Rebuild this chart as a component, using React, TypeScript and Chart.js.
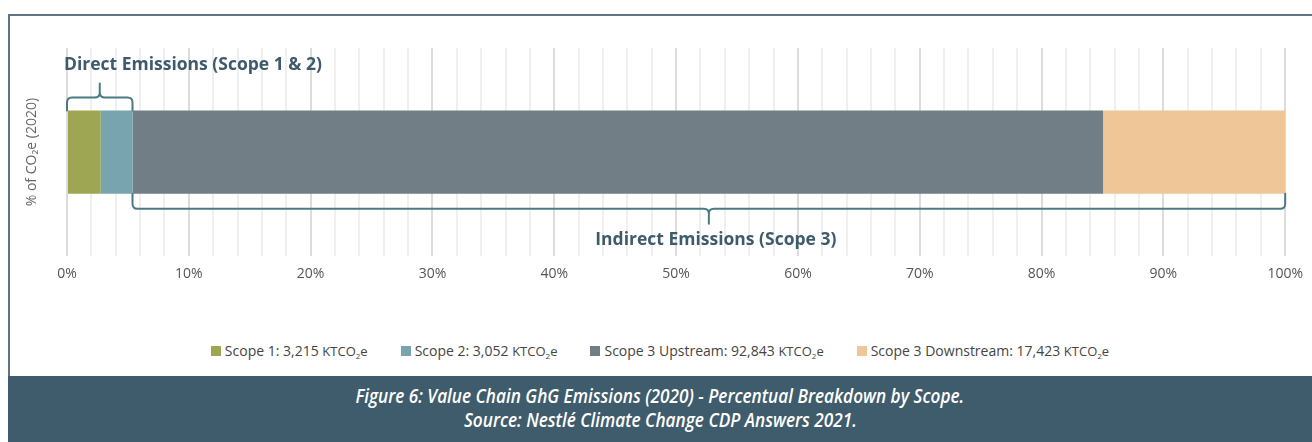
import React, { useEffect, useRef } from "react";
import { Chart, registerables } from "chart.js";

Chart.register(...registerables);

const categories = ["2020"];
const seriesLabels = ["Scope 1", "Scope 2", "Scope 3 Upstream", "Scope 3 Downstream"];
const seriesValuesKt = [3215, 3052, 92843, 17423];
const seriesColors = ["#9ea553", "#77a4ae", "#717e86", "#efc698"];
const xTickLabels = ["0%", "10%", "20%", "30%", "40%", "50%", "60%", "70%", "80%", "90%", "100%"];
const yTitle = "% of CO\u2082e (2020)";
const directLabel = "Direct Emissions (Scope 1 & 2)";
const indirectLabel = "Indirect Emissions (Scope 3)";
const captionLines = [
  "Figure 6: Value Chain GhG Emissions (2020) - Percentual Breakdown by Scope.",
  "Source: Nestl\u00e9 Climate Change CDP Answers 2021.",
];

const FONT = '"Open Sans", "Noto Sans", sans-serif';
const ANNOT_TEXT = "#3e5b6c";
const BRACE = "#4b7b82";

function drawBrace(ctx: CanvasRenderingContext2D, x1: number, x2: number, yEdge: number, yLine: number, yTip: number) {
  const d = Math.sign(yLine - yEdge);
  const r = 5;
  const xm = (x1 + x2) / 2;
  ctx.beginPath();
  ctx.moveTo(x1, yEdge);
  ctx.lineTo(x1, yLine - d * r);
  ctx.quadraticCurveTo(x1, yLine, x1 + r, yLine);
  ctx.lineTo(xm - r, yLine);
  ctx.quadraticCurveTo(xm, yLine, xm, yLine + d * r);
  ctx.lineTo(xm, yTip);
  ctx.moveTo(xm, yLine + d * r);
  ctx.quadraticCurveTo(xm, yLine, xm + r, yLine);
  ctx.lineTo(x2 - r, yLine);
  ctx.quadraticCurveTo(x2, yLine, x2, yLine - d * r);
  ctx.lineTo(x2, yEdge);
  ctx.stroke();
}

const annotationPlugin = {
  id: "annotations",
  afterDatasetsDraw(chart: any) {
    const { ctx, chartArea } = chart;
    const xs = chart.scales.x;
    const bar = chart.getDatasetMeta(0).data[0] as any;
    const top = bar.y - bar.height / 2;
    const bottom = bar.y + bar.height / 2;
    const total = seriesValuesKt.reduce((a, b) => a + b, 0);
    const directPct = ((seriesValuesKt[0] + seriesValuesKt[1]) / total) * 100;
    const x0 = xs.getPixelForValue(0);
    const xd = xs.getPixelForValue(directPct);
    const x100 = xs.getPixelForValue(100);

    ctx.save();
    ctx.strokeStyle = BRACE;
    ctx.lineWidth = 2;
    ctx.lineCap = "round";
    ctx.lineJoin = "round";
    drawBrace(ctx, x0, xd, top, top - 13, top - 27);
    drawBrace(ctx, xd, x100, bottom, bottom + 15, bottom + 30);

    ctx.fillStyle = ANNOT_TEXT;
    ctx.font = `bold 17.5px ${FONT}`;
    ctx.textBaseline = "middle";
    ctx.textAlign = "left";
    ctx.fillText(directLabel, x0 - 3, top - 45);
    ctx.textAlign = "center";
    ctx.fillText(indirectLabel, (xd + x100) / 2 + 7, bottom + 46);

    // y axis title
    ctx.translate(22, (chartArea.top + chartArea.bottom) / 2);
    ctx.rotate(-Math.PI / 2);
    ctx.fillStyle = "#666666";
    ctx.font = `14px ${FONT}`;
    ctx.textAlign = "center";
    ctx.fillText(yTitle, 0, 0);
    ctx.restore();
  },
};

function ChartCanvas() {
  const ref = useRef<HTMLCanvasElement>(null);
  useEffect(() => {
    if (!ref.current) return;
    const total = seriesValuesKt.reduce((a, b) => a + b, 0);
    const chart = new Chart(ref.current, {
      type: "bar",
      data: {
        labels: categories,
        datasets: seriesLabels.map((label, i) => ({
          label,
          data: [(seriesValuesKt[i] / total) * 100],
          backgroundColor: seriesColors[i],
          borderWidth: 0,
          barPercentage: 0.4,
          categoryPercentage: 1,
        })),
      },
      options: {
        indexAxis: "y",
        responsive: false,
        animation: false,
        layout: { padding: { left: 57, right: 26, top: 32, bottom: 15 } },
        plugins: { legend: { display: false }, tooltip: { enabled: false } },
        scales: {
          x: {
            stacked: true,
            min: 0,
            max: 100,
            border: { display: false },
            grid: {
              drawTicks: false,
              lineWidth: 2,
              color: (c: any) => (c.tick && c.tick.value % 10 === 0 ? "#dcdcdc" : "#efefef"),
            },
            ticks: {
              stepSize: 2,
              autoSkip: false,
              maxRotation: 0,
              padding: 9,
              color: "#555555",
              font: { family: FONT, size: 14 },
              callback: (v: any) => (Number(v) % 10 === 0 ? xTickLabels[Number(v) / 10] : ""),
            },
          },
          y: { stacked: true, display: false },
        },
      },
      plugins: [annotationPlugin],
    });
    return () => chart.destroy();
  }, []);
  return <canvas ref={ref} width={1302} height={290} style={{ display: "block" }} />;
}

export default function App() {
  return (
    <div style={{ position: "absolute", left: 8, top: 14, right: 0, bottom: 0, fontFamily: FONT, overflow: "hidden" }}>
      <div style={{ position: "absolute", left: 0, top: 0, right: 0, height: 2, background: "#5f7682" }} />
      <div style={{ position: "absolute", left: 0, top: 0, width: 2, bottom: 0, background: "#5f7682" }} />
      <div style={{ position: "absolute", left: 2, top: 2 }}>
        <ChartCanvas />
      </div>
      <div
        style={{
          position: "absolute",
          left: 0,
          right: 0,
          top: 327,
          display: "flex",
          justifyContent: "center",
          gap: 33,
          fontSize: 14,
          color: "#444444",
          whiteSpace: "nowrap",
        }}
      >
        {seriesLabels.map((label, i) => (
          <span key={label} style={{ display: "flex", alignItems: "center" }}>
            <span style={{ width: 10, height: 10, background: seriesColors[i], marginRight: 4, display: "inline-block" }} />
            <span>
              {label}: {seriesValuesKt[i].toLocaleString("en-US")}{" "}
              <span style={{ fontSize: 13 }}>
                KTCO<sub style={{ fontSize: 8, verticalAlign: -3 }}>2</sub>e
              </span>
            </span>
          </span>
        ))}
      </div>
      <div
        style={{
          position: "absolute",
          left: 0,
          right: 0,
          top: 362,
          bottom: 0,
          background: "#3f5c6c",
          color: "#ffffff",
          fontStyle: "italic",
          fontWeight: 600,
          fontSize: 20,
          lineHeight: "24px",
          textAlign: "center",
          paddingTop: 8,
          boxSizing: "border-box",
        }}
      >
        {captionLines.map((l) => (
          <div key={l}>
            <span style={{ display: "inline-block", transform: "scaleX(0.86)", whiteSpace: "nowrap" }}>{l}</span>
          </div>
        ))}
      </div>
    </div>
  );
}
